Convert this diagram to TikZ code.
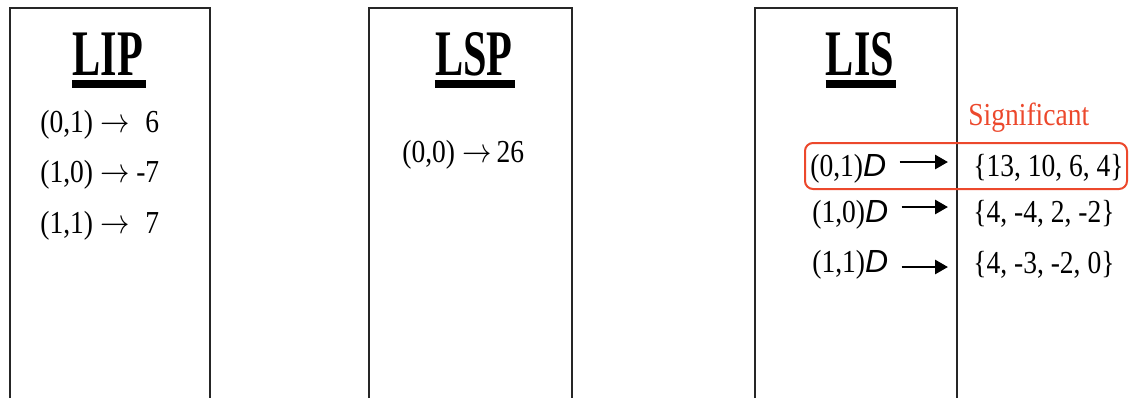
\documentclass[tikz,border=0pt]{standalone}
\usepackage{fontspec}
\setmainfont{Liberation Serif}
\newfontfamily\rowfont[FakeStretch=0.86]{Liberation Serif}
\newfontfamily\headfont[FakeStretch=0.65]{Liberation Serif}
\newfontfamily\dfont{Liberation Sans}
\usetikzlibrary{arrows.meta}
\definecolor{sigred}{RGB}{236,72,44}
\newcommand\listarrow{\scalebox{0.85}[1]{$\rightarrow$}}

\begin{document}
\begin{tikzpicture}[x=0.5pt,y=-0.5pt,
  listbox/.style={line width=1pt,black!85},
  head/.style={inner sep=0pt,anchor=base,font=\headfont\bfseries\fontsize{32.5}{36}\selectfont},
  headbar/.style={line width=4pt},
  entry/.style={inner sep=0pt,anchor=base west,font=\rowfont\fontsize{16}{19}\selectfont},
  darrow/.style={line width=1.4pt,-{Triangle[length=6.5pt,width=7pt]}},
  sigbox/.style={sigred,line width=1pt,rounded corners=4pt}]
  \useasboundingbox (0,0) rectangle (1130,398);
  % the three lists, open at the bottom
  \draw[listbox] (10,398) -- (10,8) -- (210,8) -- (210,398);
  \draw[listbox] (369,398) -- (369,8) -- (572,8) -- (572,398);
  \draw[listbox] (755,398) -- (755,8) -- (957,8) -- (957,398);
  % headings
  \node[head] (lip) at (108,75) {LIP};
  \node[head] (lsp) at (474,75) {LSP};
  \node[head] (lis) at (860,75) {LIS};
  \foreach \h in {lip,lsp,lis}
    \draw[headbar] ([yshift=-4.5pt]\h.base west) -- ([xshift=1pt,yshift=-4.5pt]\h.base east);
  % LIP entries
  \node[entry] (lip1) at (40,132) {(0,1) \listarrow\ \phantom{-}6};
  \node[entry] (lip2) at (40,182) {(1,0) \listarrow\ -7};
  \node[entry] (lip3) at (40,233) {(1,1) \listarrow\ \phantom{-}7};
  % LSP entries
  \node[entry] (lsp1) at (402,162) {(0,0) \listarrow\,26};
  % LIS entries and their descendants
  \node[entry] (lisr1) at (810,176) {(0,1){\dfont\itshape D}};
  \node[entry] (lisr2) at (812,222) {(1,0){\dfont\itshape D}};
  \node[entry] (lisr3) at (812,272) {(1,1){\dfont\itshape D}};
  \node[entry] (lisset1) at (973,176) {\{13, 10, 6, 4\}};
  \node[entry] (lisset2) at (973,222) {\{4, -4, 2, -2\}};
  \node[entry] (lisset3) at (973,273) {\{4, -3, -2, 0\}};
  \draw[darrow] ([shift={(13,-14)}]lisr1.base east) -- ([shift={(-25,-14)}]lisset1.base west);
  \draw[darrow] ([shift={(13,-15)}]lisr2.base east) -- ([shift={(-25,-15)}]lisset2.base west);
  \draw[darrow] ([shift={(13,-5)}]lisr3.base east) -- ([shift={(-25,-6)}]lisset3.base west);
  \node[entry,text=sigred] (sig) at (968,125) {Significant};
  \draw[sigbox] (805,143) rectangle (1127,189);
\end{tikzpicture}
\end{document}
